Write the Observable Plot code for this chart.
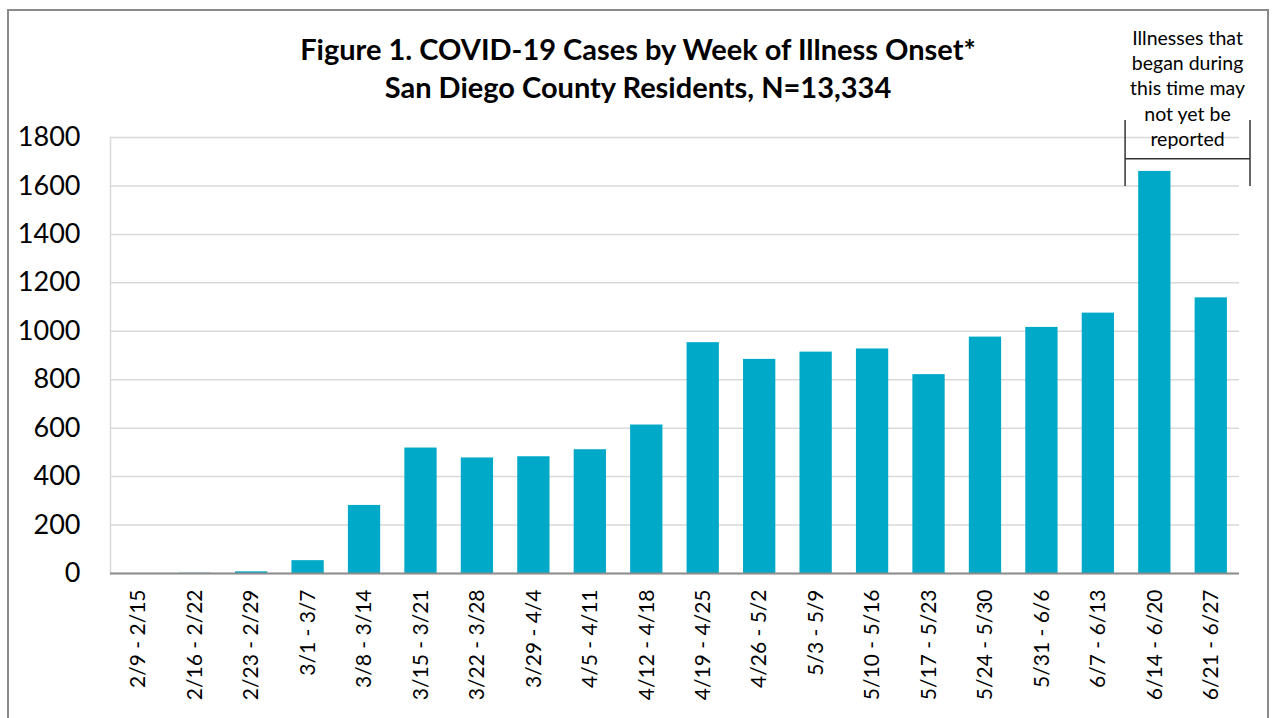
<!DOCTYPE html>
<html><head><meta charset="utf-8">
<script src="https://cdn.jsdelivr.net/npm/d3@7"></script>
<script src="https://cdn.jsdelivr.net/npm/@observablehq/plot@0.6"></script>
<style>
html,body{margin:0;padding:0;background:#fff;}
#wrap{position:relative;width:1273px;height:718px;overflow:hidden;font-family:Lato,sans-serif;}
#border{position:absolute;left:7px;top:9px;width:1258px;height:720px;border:2px solid #8a8a8a;border-bottom:none;}
#title{position:absolute;left:0;top:30px;width:1276px;text-align:center;font:bold 29px/38px Lato,sans-serif;color:#000;}
#chart{position:absolute;left:0;top:0;}
</style></head><body>
<div id="wrap"><div id="border"></div><div id="title">Figure 1. COVID-19 Cases by Week of Illness Onset*<br>San Diego County Residents, N=13,334</div><div id="chart"></div></div>
<script>
const weeks = ["2/9 - 2/15","2/16 - 2/22","2/23 - 2/29","3/1 - 3/7","3/8 - 3/14","3/15 - 3/21","3/22 - 3/28","3/29 - 4/4","4/5 - 4/11","4/12 - 4/18","4/19 - 4/25","4/26 - 5/2","5/3 - 5/9","5/10 - 5/16","5/17 - 5/23","5/24 - 5/30","5/31 - 6/6","6/7 - 6/13","6/14 - 6/20","6/21 - 6/27"];
const cases = [0, 1, 7, 53, 281, 518, 477, 482, 511, 613, 953, 884, 914, 927, 821, 976, 1016, 1075, 1660, 1138];
const yTicks = [0,200,400,600,800,1000,1200,1400,1600,1800];
const noteLines = ["Illnesses that","began during","this time may","not yet be","reported"];

const data = weeks.map((w,i)=>({week:w, cases:cases[i]}));
const chart = Plot.plot({
  width:1273, height:718, marginLeft:110, marginRight:34, marginTop:137, marginBottom:145,
  style:{fontFamily:"Lato, sans-serif", background:"transparent", overflow:"visible", color:"#000"},
  x:{domain:weeks, paddingInner:0.428, paddingOuter:0.214, align:0.5, round:false, label:null},
  y:{domain:[0,1800], label:null},
  marks:[
    Plot.gridY(yTicks,{stroke:"#d9d9d9", strokeOpacity:1, strokeWidth:1.5}),
    Plot.frame({anchor:"left", stroke:"#d9d9d9", strokeWidth:1.5}),
    Plot.barY(data,{x:"week", y:"cases", fill:"#00a9c7"}),
    Plot.ruleY([0],{stroke:"#8c8c8c", strokeWidth:2}),
    Plot.axisY({ticks:yTicks, tickSize:0, tickPadding:30, fontSize:27, tickFormat:d=>String(d), fill:"#000"}),
    Plot.axisX({tickSize:0, tickPadding:16, tickRotate:-90, fontSize:21, fill:"#000"})
  ]
});
document.getElementById("chart").appendChild(chart);

// annotation bracket over the last two (possibly incomplete) weeks
const xs = chart.scale("x"), ys = chart.scale("y");
const gap = (xs.step - xs.bandwidth)/2;
const left = xs.apply(weeks[18]) - gap - 1;
const right = xs.apply(weeks[19]) + xs.bandwidth + gap + 11;
const yTop = ys.apply(1870), yMid = ys.apply(1710), yBot = ys.apply(1598);
const g = d3.select(chart).append("g").attr("stroke","#333").attr("stroke-width",1.5);
g.append("line").attr("x1",left).attr("x2",left).attr("y1",yTop).attr("y2",yBot);
g.append("line").attr("x1",right).attr("x2",right).attr("y1",yTop).attr("y2",yBot);
g.append("line").attr("x1",left).attr("x2",right).attr("y1",yMid).attr("y2",yMid);
const top0 = ys.apply(1800);
d3.select(chart).append("g").selectAll("text").data(noteLines).join("text")
  .attr("x",(left+right)/2).attr("y",(d,i)=>top0-92+i*25.2)
  .attr("text-anchor","middle").attr("font-size",19.5).attr("font-family","Lato, sans-serif")
  .attr("fill","#000").text(d=>d);
</script>
</body></html>
